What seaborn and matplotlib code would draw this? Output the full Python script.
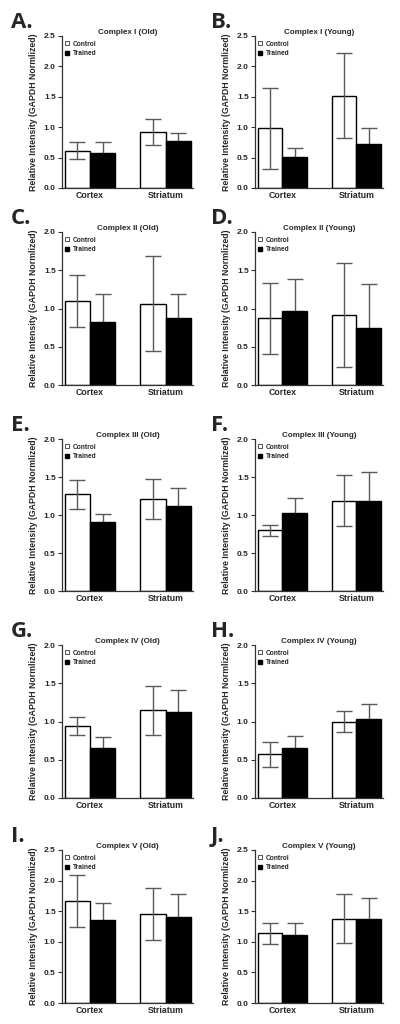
import numpy as np
import pandas as pd
import matplotlib
matplotlib.use("Agg")
import matplotlib.pyplot as plt
import seaborn as sns
from matplotlib.lines import Line2D

# panel data: [Cortex, Striatum] for each panel A..J
letters = ["A.", "B.", "C.", "D.", "E.", "F.", "G.", "H.", "I.", "J."]
titles = ["Complex I (Old)", "Complex I (Young)",
          "Complex II (Old)", "Complex II (Young)",
          "Complex III (Old)", "Complex III (Young)",
          "Complex IV (Old)", "Complex IV (Young)",
          "Complex V (Old)", "Complex V (Young)"]
regions = ["Cortex", "Striatum"]
groups = ["Control", "Trained"]

control_mean = [[0.61, 0.92], [0.98, 1.52], [1.10, 1.06], [0.87, 0.91], [1.27, 1.21],
                [0.80, 1.19], [0.94, 1.15], [0.57, 1.00], [1.67, 1.46], [1.14, 1.38]]
control_err = [[0.14, 0.22], [0.67, 0.70], [0.34, 0.62], [0.46, 0.68], [0.195, 0.265],
               [0.075, 0.34], [0.12, 0.32], [0.165, 0.135], [0.42, 0.425], [0.175, 0.405]]
trained_mean = [[0.57, 0.77], [0.51, 0.72], [0.82, 0.87], [0.97, 0.74], [0.91, 1.12],
                [1.02, 1.18], [0.66, 1.13], [0.66, 1.03], [1.35, 1.40], [1.11, 1.38]]
trained_err = [[0.18, 0.14], [0.14, 0.27], [0.37, 0.32], [0.42, 0.58], [0.10, 0.24],
               [0.20, 0.38], [0.14, 0.28], [0.15, 0.20], [0.29, 0.38], [0.20, 0.34]]
y_max = [2.5, 2.5, 2.0, 2.0, 2.0, 2.0, 2.0, 2.0, 2.5, 2.5]

sns.set_style("ticks")
plt.rcParams["font.family"] = ["Liberation Sans", "DejaVu Sans"]
plt.rcParams["font.weight"] = "bold"

fig = plt.figure(figsize=(4, 10.24), dpi=100)

# axes boxes in pixels (left, top of y range, right, bottom)
col_x = [(62, 193), (255, 383)]
letter_x = [11, 211]
row_y = [(36, 188), (232, 385), (439, 591), (645, 798), (850, 1003)]
W, H = 400, 1024
err_color = "#5a5a5a"

for i in range(10):
    r, c = divmod(i, 2)
    x0, x1 = col_x[c]
    y0, y1 = row_y[r]
    ax = fig.add_axes([x0 / W, 1 - y1 / H, (x1 - x0) / W, (y1 - y0) / H])

    df = pd.DataFrame({
        "region": regions * 2,
        "group": [groups[0]] * 2 + [groups[1]] * 2,
        "value": control_mean[i] + trained_mean[i],
    })
    sns.barplot(data=df, x="region", y="value", hue="group", order=regions,
                hue_order=groups, palette={"Control": "white", "Trained": "black"},
                edgecolor="black", linewidth=1.0, width=0.67, gap=0,
                errorbar=None, legend=False, ax=ax)

    # mean +/- error, control whiskers on top, trained lower whisker hidden by bar
    errs = [control_err[i], trained_err[i]]
    bar_sets = list(ax.containers)[:2]
    for k, cont in enumerate(bar_sets):
        xs = [b.get_x() + b.get_width() / 2 for b in cont]
        hs = [b.get_height() for b in cont]
        ax.errorbar(xs, hs, yerr=errs[k], fmt="none", ecolor=err_color,
                    elinewidth=1.0, capsize=5.5, capthick=1.0,
                    zorder=3 if k == 0 else 0.5)

    ax.set_xlim(-0.37, 1.36)
    ax.set_ylim(0, y_max[i])
    ticks = np.arange(0, y_max[i] + 0.01, 0.5)
    ax.set_yticks(ticks)
    ax.set_yticklabels([f"{v:.1f}" for v in ticks])
    ax.set_xlabel("")
    ax.set_ylabel("Relative Intensity (GAPDH Normlized)", fontsize=6.3,
                  fontweight="bold", labelpad=4)
    ax.set_title(titles[i], fontsize=5.8, fontweight="bold", pad=1.5)
    ax.tick_params(axis="y", length=3, width=0.8, pad=1.5, labelsize=6,
                   color="#333333")
    ax.tick_params(axis="x", length=0, pad=2.5, labelsize=6.3)
    for lab in ax.get_xticklabels() + ax.get_yticklabels():
        lab.set_fontweight("bold")
    sns.despine(ax=ax)
    for s in ["left", "bottom"]:
        ax.spines[s].set_color("#333333")
        ax.spines[s].set_linewidth(0.9)

    handles = [Line2D([], [], marker="s", linestyle="none", markersize=2.6,
                      markerfacecolor="white", markeredgecolor="#333333",
                      markeredgewidth=0.6),
               Line2D([], [], marker="s", linestyle="none", markersize=3.2,
                      markerfacecolor="black", markeredgecolor="black")]
    ax.legend(handles, groups, loc="upper left", bbox_to_anchor=(0.02, 0.97),
              frameon=False, handlelength=0.6, handletextpad=0.6,
              labelspacing=0.35, borderaxespad=0, borderpad=0,
              prop={"weight": "bold", "size": 4.8})

    fig.text(letter_x[c] / W, 1 - (y0 - 8) / H, letters[i], fontsize=16,
             fontweight="bold", family=["Open Sans", "DejaVu Sans"],
             ha="left", va="baseline")

fig.savefig("out.png", dpi=100)
